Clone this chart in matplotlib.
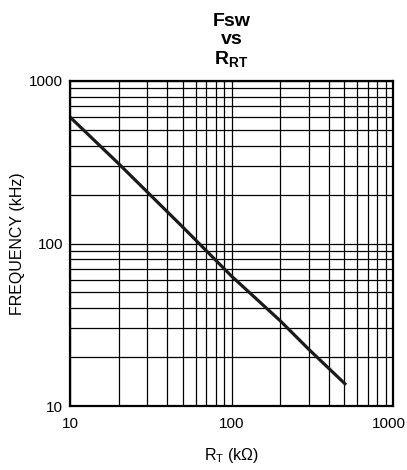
import matplotlib
matplotlib.use("Agg")
import matplotlib.pyplot as plt
import matplotlib.transforms as mtransforms
from matplotlib.ticker import LogLocator, NullFormatter, FixedLocator

#
# Fonts
#
plt.rcParams['font.family'] = ['Liberation Sans', 'DejaVu Sans']
plt.rcParams['mathtext.fontset'] = 'custom'
plt.rcParams['mathtext.rm'] = 'Liberation Sans'
plt.rcParams['mathtext.bf'] = 'Liberation Sans:bold'

#
# Data (RT in kOhm, frequency in kHz)
#
rt_kohm = [10, 20, 50, 100, 200, 300, 512]
fsw_khz = [600, 310, 126, 63, 33.5, 22.4, 13.5]

x_ticks = [10, 100, 1000]
y_ticks = [10, 100, 1000]
tick_labels = ['10', '100', '1000']

# Create the figure
fig = plt.figure(figsize=(4.07, 4.70), dpi=100)
ax = fig.add_axes([70 / 407, 1 - 406 / 470, 323 / 407, 325 / 470])

ax.set_xscale('log')
ax.set_yscale('log')
ax.set_xlim(10, 1000)
ax.set_ylim(10, 1000)

# Grid on every decade and sub-decade line
ax.xaxis.set_major_locator(FixedLocator(x_ticks))
ax.yaxis.set_major_locator(FixedLocator(y_ticks))
ax.set_xticklabels(tick_labels)
ax.set_yticklabels(tick_labels)
ax.xaxis.set_minor_locator(LogLocator(base=10, subs=range(2, 10)))
ax.yaxis.set_minor_locator(LogLocator(base=10, subs=range(2, 10)))
ax.xaxis.set_minor_formatter(NullFormatter())
ax.yaxis.set_minor_formatter(NullFormatter())
ax.grid(True, which='both', color='black', linewidth=0.9)
ax.tick_params(which='both', length=0)
ax.tick_params(axis='x', labelsize=11, pad=8)
ax.tick_params(axis='y', labelsize=11, pad=5)

# Nudge the last x label left so it stays inside the picture
last_label = ax.get_xticklabels()[-1]
last_label.set_transform(last_label.get_transform() +
                         mtransforms.ScaledTranslation(-4 / 100, 0, fig.dpi_scale_trans))

for spine in ax.spines.values():
    spine.set_linewidth(1.6)
    spine.set_color('black')

# The curve
ax.plot(rt_kohm, fsw_khz, color='#1a1a1a', linewidth=2.3, solid_capstyle='butt')

# Labels
ax.set_xlabel(r'$\mathregular{R_T}$ (k$\Omega$)', fontsize=11.5, labelpad=11)
ax.set_ylabel('FREQUENCY (kHz)', fontsize=11.5, va='center')
ax.yaxis.set_label_coords(-52 / 323, 0.5)
ax.set_title('Fsw\nvs\n' + r'$\mathbf{R_{RT}}$', fontsize=14, fontweight='bold',
             linespacing=1.1, pad=12)

fig.savefig('out.png', dpi=100)
